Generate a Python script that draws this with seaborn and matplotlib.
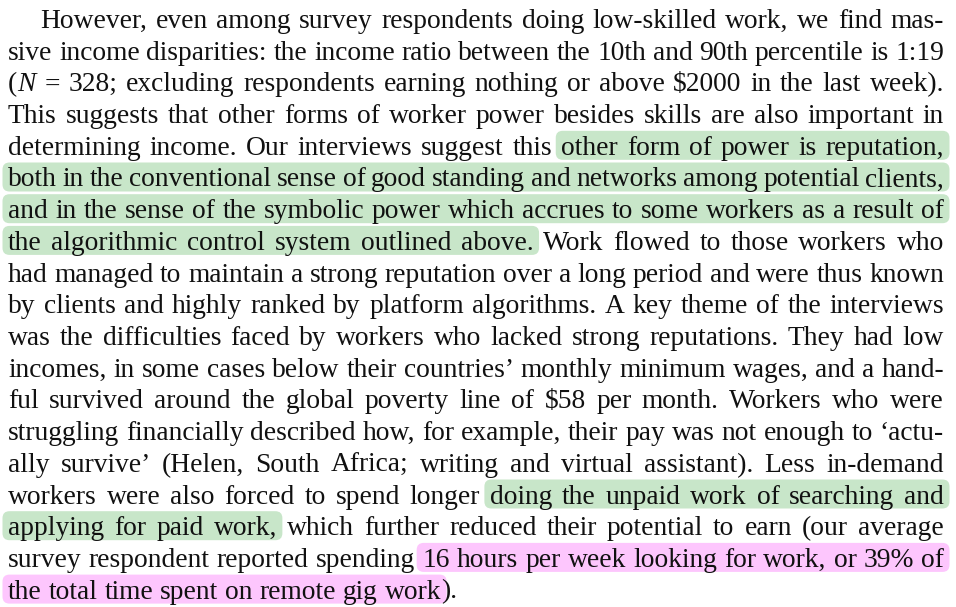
import matplotlib.pyplot as plt
import seaborn as sns
from matplotlib.patches import FancyBboxPatch

# each line of the passage: list of (text, tag); tag "g" = green highlight,
# "p" = pink highlight, "i" = italic, "" = plain
LINES = [
    [("However, even among survey respondents doing low-skilled work, we find mas-", "")],
    [("sive income disparities: the income ratio between the 10th and 90th percentile is 1:19", "")],
    [("(", ""), ("N", "i"), (" = 328; excluding respondents earning nothing or above $2000 in the last week).", "")],
    [("This suggests that other forms of worker power besides skills are also important in", "")],
    [("determining income. Our interviews suggest this ", ""), ("other form of power is reputation,", "g")],
    [("both in the conventional sense of good standing and networks among potential clients,", "g")],
    [("and in the sense of the symbolic power which accrues to some workers as a result of", "g")],
    [("the algorithmic control system outlined above.", "g"), (" Work flowed to those workers who", "")],
    [("had managed to maintain a strong reputation over a long period and were thus known", "")],
    [("by clients and highly ranked by platform algorithms. A key theme of the interviews", "")],
    [("was the difficulties faced by workers who lacked strong reputations. They had low", "")],
    [("incomes, in some cases below their countries\u2019 monthly minimum wages, and a hand-", "")],
    [("ful survived around the global poverty line of $58 per month. Workers who were", "")],
    [("struggling financially described how, for example, their pay was not enough to \u2018actu-", "")],
    [("ally survive\u2019 (Helen, South Africa; writing and virtual assistant). Less in-demand", "")],
    [("workers were also forced to spend longer ", ""), ("doing the unpaid work of searching and", "g")],
    [("applying for paid work,", "g"), (" which further reduced their potential to earn (our average", "")],
    [("survey respondent reported spending ", ""), ("16 hours per week looking for work, or 39% of", "p")],
    [("the total time spent on remote gig work", "p"), (").", "")],
]
HIGHLIGHT_COLORS = {"g": "#c8e6c9", "p": "#fdc6fd"}

W, H = 956, 607
LEFT, RIGHT, INDENT = 8, 944, 40
FIRST_BASE, LINE_STEP = 28, 31.7
FONT_SIZE = 19.8
PAD = 5.5

sns.set_theme(style="white")
plt.rcParams["font.family"] = ["Liberation Serif", "DejaVu Serif"]

fig = plt.figure(figsize=(W / 100, H / 100), dpi=100)
ax = fig.add_axes([0, 0, 1, 1])
ax.set_xlim(0, W)
ax.set_ylim(H, 0)
ax.axis("off")
renderer = fig.canvas.get_renderer()


def style_of(tag):
    return "italic" if tag == "i" else "normal"


def text_width(s, tag):
    t = ax.text(0, 0, s, fontsize=FONT_SIZE, fontstyle=style_of(tag), parse_math=False)
    w = t.get_window_extent(renderer).width
    t.remove()
    return w


space_w = text_width("n n", "") - text_width("nn", "")

for i, pieces in enumerate(LINES):
    # split into words, each a list of (piece, tag)
    words = [[]]
    for txt, tag in pieces:
        for k, part in enumerate(txt.split(" ")):
            if k > 0:
                words.append([])
            if part:
                words[-1].append((part, tag))
    words = [w for w in words if w]

    widths = [[text_width(p, tag) for p, tag in w] for w in words]
    total = sum(sum(w) for w in widths)
    left = INDENT if i == 0 else LEFT
    if i == len(LINES) - 1:
        gap = space_w
    else:
        gap = (RIGHT - left - total) / (len(words) - 1)

    base = FIRST_BASE + i * LINE_STEP
    runs = []
    prev_tag = None
    x = left
    for w, ws in zip(words, widths):
        for (p, tag), pw in zip(w, ws):
            ax.text(x, base, p, fontsize=FONT_SIZE, color="#111111",
                    fontstyle=style_of(tag), parse_math=False,
                    va="baseline", ha="left", zorder=3)
            if tag in HIGHLIGHT_COLORS:
                if prev_tag == tag:
                    runs[-1][1] = x + pw
                else:
                    runs.append([x, x + pw, tag])
            prev_tag = tag
            x += pw
        x += gap

    for x0, x1, tag in runs:
        ax.add_patch(FancyBboxPatch(
            (x0 - PAD, base - 24), x1 - x0 + 2 * PAD, 29,
            boxstyle="round,pad=0,rounding_size=7",
            facecolor=HIGHLIGHT_COLORS[tag], edgecolor="none", zorder=1))

fig.savefig("out.png", dpi=100, facecolor="white")
